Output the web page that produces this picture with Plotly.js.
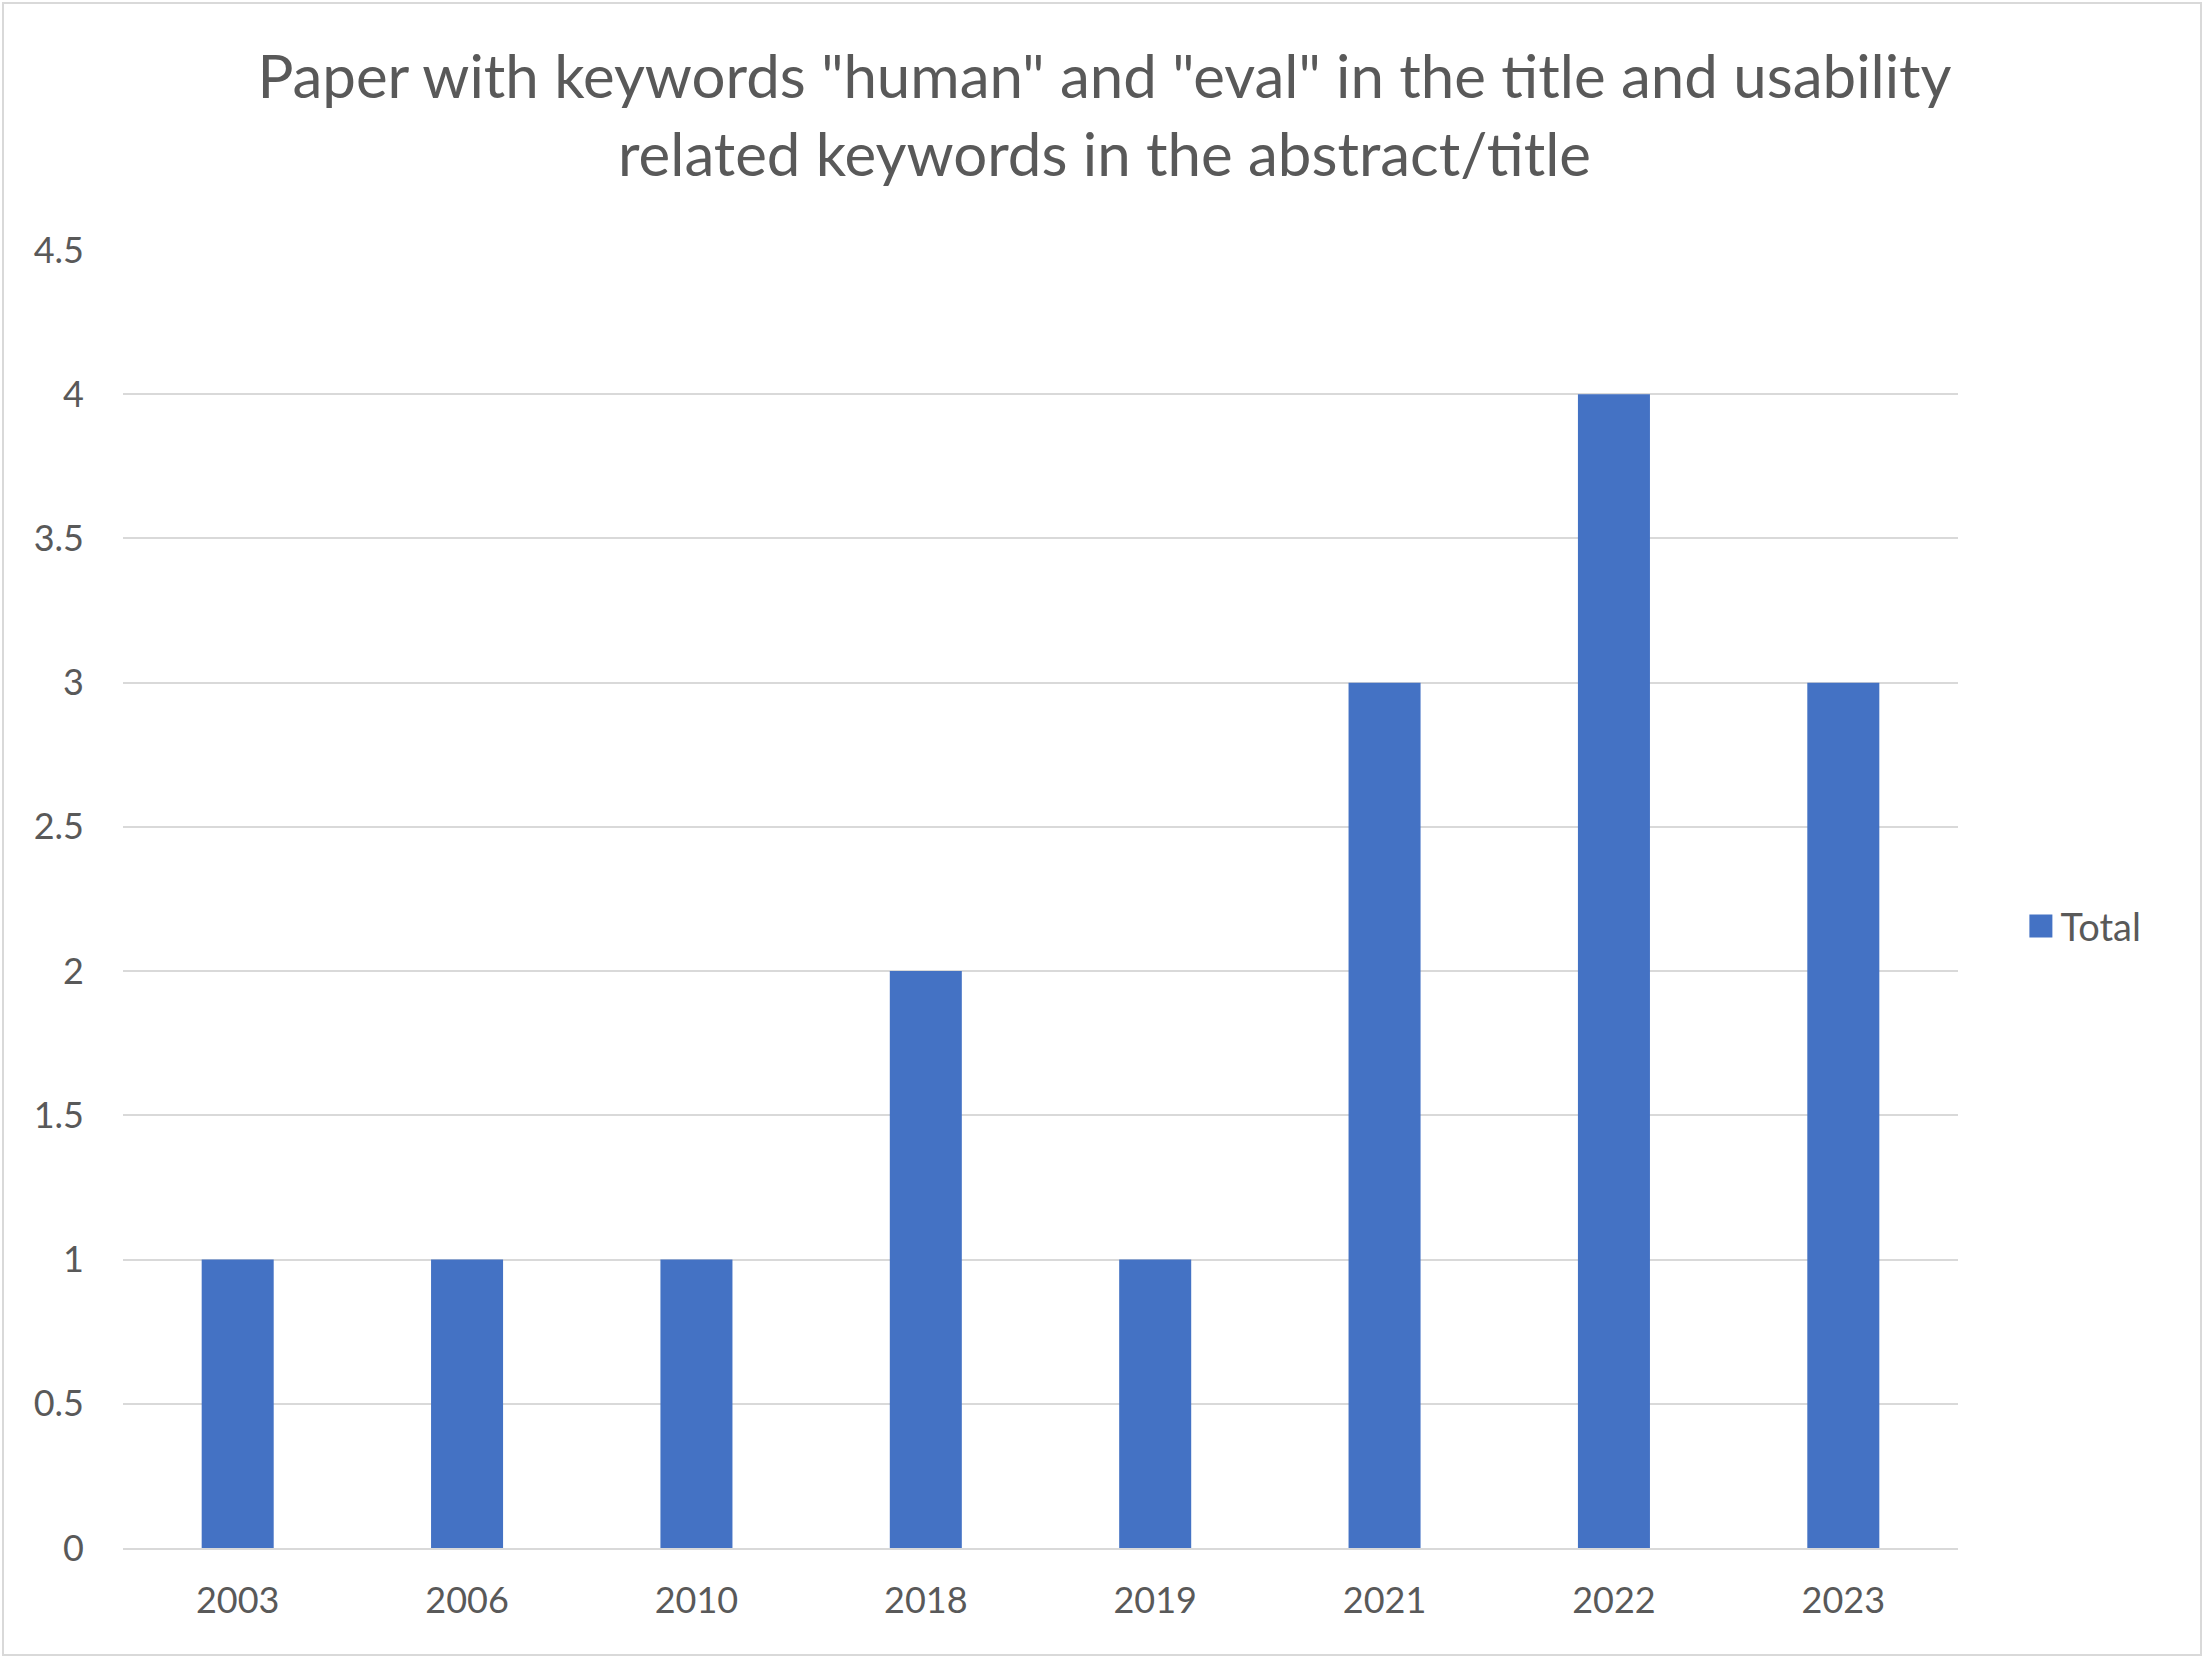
<!DOCTYPE html>
<html>
<head>
<meta charset="utf-8">
<script src="https://cdn.plot.ly/plotly-3.0.1.min.js"></script>
<style>
  html, body { margin: 0; padding: 0; background: #fff; }
  #wrap { position: relative; width: 2209px; height: 1663px; }
  #plot { width: 2209px; height: 1663px; }
  #frame {
    position: absolute; left: 2px; top: 2px; width: 2196px; height: 1650px;
    border: 2px solid #d9d9d9; pointer-events: none;
  }
</style>
</head>
<body>
<div id="wrap">
  <div id="plot"></div>
  <div id="frame"></div>
</div>
<script>
// datos
const years = ['2003', '2006', '2010', '2018', '2019', '2021', '2022', '2023'];
const totals = [1, 1, 1, 2, 1, 3, 4, 3];
const yTicks = [0, 0.5, 1, 1.5, 2, 2.5, 3, 3.5, 4, 4.5];

const textColor = '#595959';
const gridColor = '#d9d9d9';
const barColor = '#4472c4';
const font = 'Lato, "Open Sans", sans-serif';

const trace = {
  type: 'bar',
  x: years,
  y: totals,
  name: 'Total',
  marker: { color: barColor },
  hoverinfo: 'x+y'
};

const layout = {
  width: 2209,
  height: 1663,
  margin: { l: 123, r: 251, t: 250, b: 115 },
  paper_bgcolor: '#fff',
  plot_bgcolor: '#fff',
  font: { family: font, color: textColor, size: 36 },
  title: {
    text: 'Paper with keywords "human" and "eval" in the title and usability<br>related keywords in the abstract/title',
    font: { family: font, size: 60, color: textColor },
    x: 0.5,
    xanchor: 'center',
    y: 0.941,
    yanchor: 'middle'
  },
  bargap: 0.686,
  xaxis: {
    type: 'category',
    showgrid: false,
    showline: true,
    linecolor: gridColor,
    linewidth: 2,
    ticks: '',
    ticklabelstandoff: 20,
    tickfont: { size: 36, color: textColor }
  },
  yaxis: {
    range: [0, 4.5],
    tickvals: yTicks,
    ticktext: yTicks.map(String),
    showgrid: true,
    gridcolor: gridColor,
    gridwidth: 2,
    zeroline: false,
    showline: false,
    ticks: '',
    ticklabelstandoff: 38,
    tickfont: { size: 36, color: textColor }
  },
  showlegend: true,
  legend: {
    x: 1.034,
    xanchor: 'left',
    y: 0.479,
    yanchor: 'middle',
    font: { size: 38, color: textColor },
    itemwidth: 30
  }
};

Plotly.newPlot('plot', [trace], layout, { displayModeBar: false, staticPlot: true }).then(gd => {
  // el cuadrito de la leyenda es chico y fijo, lo agrandamos como en Excel
  gd.querySelectorAll('.legendpoints path').forEach(p => {
    p.setAttribute('d', 'M12,11.5H-11V-11.5H12Z');
  });
});
</script>
</body>
</html>
